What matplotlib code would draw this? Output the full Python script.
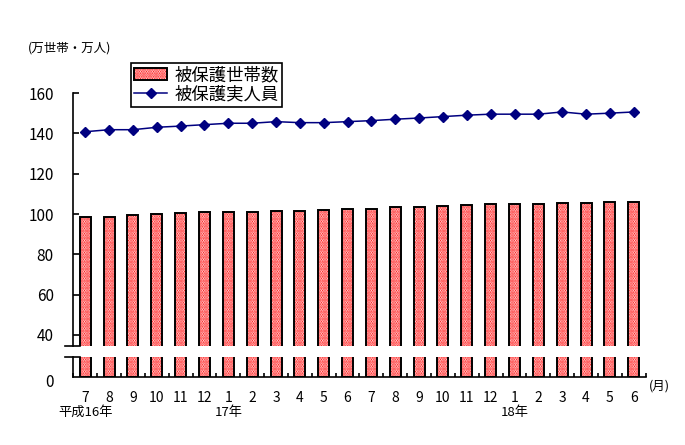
import numpy as np
import matplotlib
matplotlib.use("Agg")
import matplotlib.pyplot as plt
import matplotlib.transforms as mtransforms

plt.rcParams['font.family'] = ['Noto Sans CJK JP', 'DejaVu Sans']
plt.rcParams['hatch.linewidth'] = 1.3

months = ['7', '8', '9', '10', '11', '12', '1', '2', '3', '4', '5', '6',
          '7', '8', '9', '10', '11', '12', '1', '2', '3', '4', '5', '6']
year_labels = ['平成16年', '17年', '18年']
year_idx = [0, 6, 18]

# 被保護世帯数 (万世帯)
households = [98.5, 98.5, 99.5, 100.0, 100.5, 101.0, 101.0, 101.0, 101.5, 101.5, 102.0, 102.5,
              102.5, 103.5, 103.5, 104.0, 104.5, 105.0, 105.0, 105.0, 105.5, 105.5, 106.0, 106.0]
# 被保護実人員 (万人)
persons = [140.8, 141.8, 141.8, 143.0, 143.6, 144.3, 145.0, 145.0, 145.8, 145.3, 145.3, 145.8,
           146.3, 147.0, 147.6, 148.3, 149.0, 149.5, 149.5, 149.5, 150.6, 149.5, 150.0, 150.6]

x = np.arange(len(months))

fig = plt.figure(figsize=(6.85, 4.45), dpi=100)
ax = fig.add_axes([0.107, 0.2225, 0.8356, 0.5685])
ax_lo = fig.add_axes([0.107, 0.1535, 0.8356, 0.0436])

bar_w = 0.46
for a in (ax, ax_lo):
    hb = a.bar(x, households, bar_w, color='white', edgecolor='red', hatch='.......', linewidth=0)
    eb = a.bar(x, households, bar_w, fill=False, edgecolor='black', linewidth=1.4)
    a.set_xlim(-0.5, len(months) - 0.5)
    a.spines['top'].set_visible(False)
    a.spines['right'].set_visible(False)
    a.spines['left'].set_linewidth(1.2)
    a.spines['bottom'].set_linewidth(1.2)

line, = ax.plot(x, persons, color='#000080', marker='D', markersize=5, linewidth=1.1)

# upper part
ax.set_ylim(34.55, 160)
ax.set_yticks(range(40, 161, 20))
ax.spines['bottom'].set_visible(False)
ax.tick_params(axis='y', direction='in', length=4, width=1.2, pad=14, labelsize=11)
ax.tick_params(axis='x', bottom=False, labelbottom=False)

# lower part
ax_lo.set_ylim(0, 9.6)
ax_lo.set_yticks([0])
ax_lo.tick_params(axis='y', direction='in', length=0, pad=14, labelsize=11)
shift = mtransforms.ScaledTranslation(0, -3 / 72, fig.dpi_scale_trans)
for lbl in ax_lo.get_yticklabels():
    lbl.set_transform(lbl.get_transform() + shift)
ax_lo.set_xticks(x)
ax_lo.set_xticklabels(months)
ax_lo.set_xticks(np.arange(-0.5, len(months)), minor=True)
ax_lo.tick_params(axis='x', which='major', length=0, pad=10, labelsize=10)
ax_lo.tick_params(axis='x', which='minor', direction='in', length=3, width=1.2)

# axis break marks
for a, yy in ((ax, 0), (ax_lo, 1)):
    a.plot([-0.0145, 0.0117], [yy, yy], transform=a.transAxes, color='black',
           linewidth=1.2, clip_on=False)

# year labels under months
trans = mtransforms.blended_transform_factory(ax_lo.transData, fig.transFigure)
for i, lab in zip(year_idx, year_labels):
    ax_lo.text(i, 0.073, lab, transform=trans, ha='center', va='center', fontsize=9.5)

fig.text(0.9475, 0.1326, '(月)', va='center', ha='left', fontsize=9)
fig.text(0.041, 0.892, '(万世帯・万人)', va='center', ha='left', fontsize=9)

leg = fig.legend([(hb.patches[0], eb.patches[0]), line], ['被保護世帯数', '被保護実人員'],
                 loc='upper left', bbox_to_anchor=(0.191, 0.859), borderaxespad=0,
                 frameon=True, fancybox=False, edgecolor='black', framealpha=1,
                 fontsize=12.5, handlelength=1.9, borderpad=0.2, labelspacing=0.05,
                 handletextpad=0.4)
leg.get_frame().set_linewidth(1.2)

fig.savefig('out.png', dpi=100)
